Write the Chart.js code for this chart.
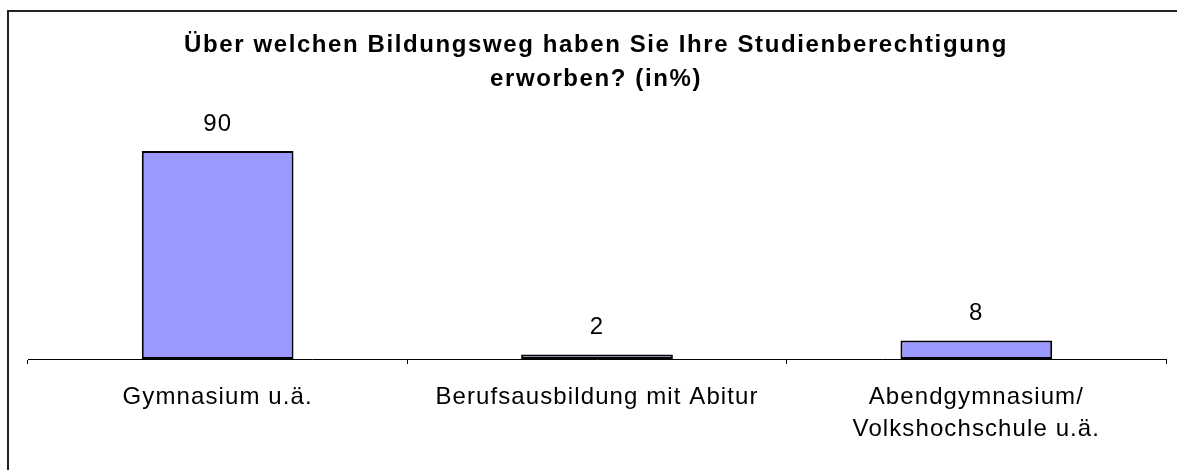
<!DOCTYPE html>
<html>
<head>
<meta charset="utf-8">
<script src="https://cdn.jsdelivr.net/npm/chart.js@4"></script>
<style>
  html, body { margin: 0; padding: 0; background: #fff; overflow: hidden; width: 1177px; height: 470px; }
  #frame { position: absolute; left: 7px; top: 10px; width: 1200px; height: 480px; border-left: 2px solid #222; border-top: 2px solid #222; }
  canvas { display: block; }
</style>
</head>
<body>
<div id="frame"><canvas id="chart" width="1172" height="458"></canvas></div>
<script>
const categories = ['Gymnasium u.ä.', 'Berufsausbildung mit Abitur', ['Abendgymnasium/', 'Volkshochschule u.ä.']];
const values = [90, 2, 8];
const titleLines = ['Über welchen Bildungsweg haben Sie Ihre Studienberechtigung', 'erworben? (in%)'];

const FONT = '"Liberation Sans", Arial, sans-serif';

// etwas Laufweite wie im Excel-Original
const spacing = {
    id: 'spacing',
    beforeDraw(chart) {
        chart.ctx.letterSpacing = '1.1px';
    }
};

// Titel und Werte über den Balken
const overlay = {
    id: 'overlay',
    afterDraw(chart) {
        const ctx = chart.ctx;
        const meta = chart.getDatasetMeta(0);
        ctx.save();
        ctx.fillStyle = '#000';
        ctx.textAlign = 'center';
        ctx.textBaseline = 'middle';

        ctx.letterSpacing = '1.1px';
        ctx.font = '24px ' + FONT;
        meta.data.forEach((bar, i) => {
            ctx.fillText(String(values[i]), bar.x, bar.y - 27);
        });

        ctx.letterSpacing = '1.6px';
        ctx.font = 'bold 24px ' + FONT;
        const cx = 587;
        titleLines.forEach((line, i) => {
            ctx.fillText(line, cx, 33 + i * 34);
        });
        ctx.restore();
    }
};

new Chart(document.getElementById('chart'), {
    type: 'bar',
    data: {
        labels: categories,
        datasets: [{
            data: values,
            backgroundColor: '#9999FF',
            borderColor: '#000',
            borderWidth: 2,
            borderSkipped: false,
            categoryPercentage: 1,
            barPercentage: 0.4
        }]
    },
    options: {
        responsive: false,
        animation: false,
        layout: { padding: { left: 19, right: 15, top: 116, bottom: 0 } },
        plugins: {
            legend: { display: false },
            tooltip: { enabled: false },
            title: { display: false }
        },
        scales: {
            x: {
                grid: { display: true, drawOnChartArea: false, drawTicks: true, tickLength: 5, color: '#000', offset: true },
                border: { display: true, color: '#000', width: 1, z: 1 },
                ticks: {
                    color: '#000',
                    padding: 17,
                    maxRotation: 0,
                    autoSkip: false,
                    font: { family: FONT, size: 24, lineHeight: 32 / 24 }
                },
                afterFit(scale) { scale.height = 111; }
            },
            y: { display: false, min: 0, max: 100 }
        }
    },
    plugins: [spacing, overlay]
});
</script>
</body>
</html>
